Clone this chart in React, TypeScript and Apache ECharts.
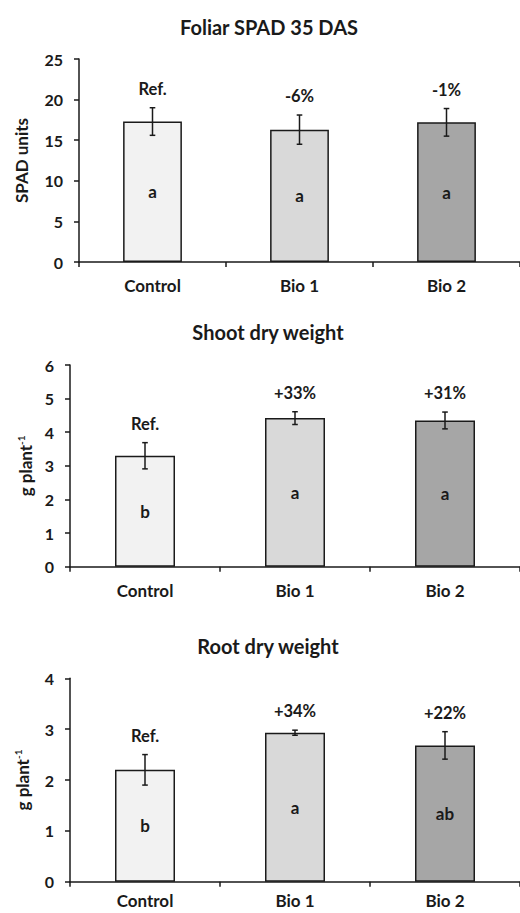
import React, { useEffect, useRef } from "react";
import * as echarts from "echarts";

const categories = ["Control", "Bio 1", "Bio 2"];
const barColors = ["#f2f2f2", "#d9d9d9", "#a6a6a6"];

const spadMeans = [17.3, 16.3, 17.2];
const spadErr = [1.7, 1.8, 1.7];
const spadPct = ["Ref.", "-6%", "-1%"];
const spadLetters = ["a", "a", "a"];

const shootMeans = [3.3, 4.42, 4.35];
const shootErr = [0.39, 0.19, 0.25];
const shootPct = ["Ref.", "+33%", "+31%"];
const shootLetters = ["b", "a", "a"];

const rootMeans = [2.2, 2.93, 2.68];
const rootErr = [0.3, 0.05, 0.27];
const rootPct = ["Ref.", "+34%", "+22%"];
const rootLetters = ["b", "a", "ab"];

const yMax = [25, 6, 4];
const yInterval = [5, 1, 1];
const titles = ["Foliar SPAD 35 DAS", "Shoot dry weight", "Root dry weight"];

const FONT = "Lato";
const INK = "#1a1a1a";

export default function App() {
  const ref = useRef<HTMLDivElement>(null);
  useEffect(() => {
    if (!ref.current) return;
    const chart = echarts.init(ref.current, null, { renderer: "svg" });
    const panels = [
      { means: spadMeans, err: spadErr, pct: spadPct, letters: spadLetters },
      { means: shootMeans, err: shootErr, pct: shootPct, letters: shootLetters },
      { means: rootMeans, err: rootErr, pct: rootPct, letters: rootLetters },
    ];
    const grids = [
      { left: 79, top: 59, width: 447, height: 203 },
      { left: 70, top: 365, width: 454.5, height: 201.7 },
      { left: 70, top: 678.3, width: 454.5, height: 203.4 },
    ];
    const xLabelMargin = [15, 15, 10];
    const yNames = [
      { text: "SPAD units", gap: 49 },
      { text: "{m|g plant}{s|-1}", gap: 35 },
      { text: "{m|g plant}{s|-1}", gap: 39 },
    ];
    const titleY = [27, 332, 646];
    const titleX = [269, 268, 268];

    const xAxis = grids.map((_, i) => ({
      type: "category",
      gridIndex: i,
      data: categories,
      axisLine: { lineStyle: { color: INK, width: 1.5 } },
      axisTick: { show: true, length: 5, lineStyle: { color: INK, width: 1.5 } },
      axisLabel: {
        color: INK,
        fontFamily: FONT,
        fontWeight: "bold",
        fontSize: 17,
        margin: xLabelMargin[i],
      },
    }));
    const yAxis = grids.map((_, i) => ({
      type: "value",
      gridIndex: i,
      min: 0,
      max: yMax[i],
      interval: yInterval[i],
      splitLine: { show: false },
      axisLine: { show: true, lineStyle: { color: INK, width: 1.5 } },
      axisTick: { show: true, length: 5, lineStyle: { color: INK, width: 1.5 } },
      axisLabel: {
        color: INK,
        fontFamily: FONT,
        fontWeight: "bold",
        fontSize: 16,
        margin: 16,
      },
      name: yNames[i].text,
      nameLocation: "middle",
      nameGap: yNames[i].gap,
      nameTextStyle: {
        color: INK,
        fontFamily: FONT,
        fontWeight: "bold",
        fontSize: 17,
        rich: {
          m: { fontFamily: FONT, fontWeight: "bold", fontSize: 17, color: INK, lineHeight: 18 },
          s: {
            fontFamily: FONT,
            fontWeight: "bold",
            fontSize: 10,
            color: INK,
            verticalAlign: "top",
            lineHeight: 18,
            padding: [0, 0, 7, 0],
          },
        },
      },
    }));

    const series: any[] = [];
    panels.forEach((p, i) => {
      series.push({
        type: "bar",
        xAxisIndex: i,
        yAxisIndex: i,
        barWidth: "40%",
        data: p.means.map((v, j) => ({
          value: v,
          itemStyle: { color: barColors[j], borderColor: INK, borderWidth: 1.5 },
        })),
        label: {
          show: true,
          position: "inside",
          formatter: (prm: any) => p.letters[prm.dataIndex],
          color: INK,
          fontFamily: FONT,
          fontWeight: "bold",
          fontSize: 17,
        },
      });
      series.push({
        type: "custom",
        xAxisIndex: i,
        yAxisIndex: i,
        data: p.means.map((v, j) => [j, v, p.err[j]]),
        encode: { x: 0, y: 1 },
        z: 5,
        renderItem: (params: any, api: any) => {
          const x = api.value(0);
          const m = api.value(1);
          const e = api.value(2);
          const top = api.coord([x, m + e]);
          const bot = api.coord([x, m - e]);
          const cap = 2.8;
          const st = { stroke: INK, lineWidth: 1.5 };
          return {
            type: "group",
            children: [
              { type: "line", shape: { x1: top[0], y1: top[1], x2: bot[0], y2: bot[1] }, style: st },
              { type: "line", shape: { x1: top[0] - cap, y1: top[1], x2: top[0] + cap, y2: top[1] }, style: st },
              { type: "line", shape: { x1: bot[0] - cap, y1: bot[1], x2: bot[0] + cap, y2: bot[1] }, style: st },
              {
                type: "text",
                x: top[0],
                y: top[1] - 19,
                style: {
                  text: p.pct[params.dataIndex],
                  align: "center",
                  verticalAlign: "middle",
                  fontFamily: FONT,
                  fontWeight: "bold",
                  fontSize: 16.5,
                  fill: INK,
                },
              },
            ],
          };
        },
      });
    });

    chart.setOption({
      animation: false,
      backgroundColor: "#ffffff",
      grid: grids,
      xAxis,
      yAxis,
      series,
      graphic: titles.map((t, i) => ({
        type: "text",
        x: titleX[i],
        y: titleY[i],
        style: {
          text: t,
          align: "center",
          verticalAlign: "middle",
          fontFamily: FONT,
          fontWeight: "bold",
          fontSize: 20,
          fill: INK,
        },
      })),
    });
    return () => chart.dispose();
  }, []);
  return (
    <div
      ref={ref}
      style={{ position: "absolute", left: 0, top: 0, width: 520, height: 913 }}
    />
  );
}
